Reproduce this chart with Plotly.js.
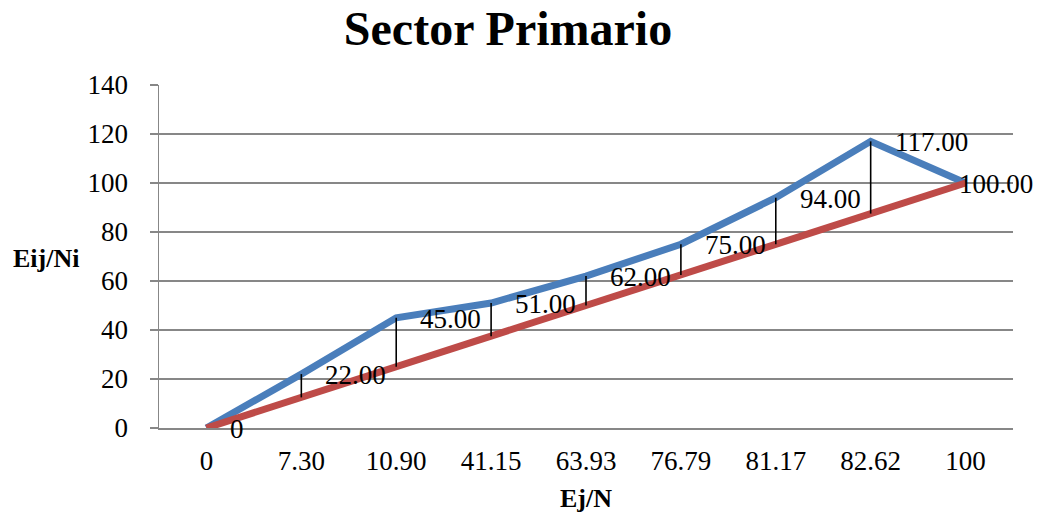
<!DOCTYPE html>
<html>
<head>
<meta charset="utf-8">
<script src="https://cdn.plot.ly/plotly-3.0.1.min.js"></script>
<style>
  html, body { margin: 0; padding: 0; background: #fff; }
  #chart { width: 1040px; height: 515px; }
</style>
</head>
<body>
<div id="chart"></div>
<script>
// Categories (Ej/N) shown on the x axis
var categories = ['0', '7.30', '10.90', '41.15', '63.93', '76.79', '81.17', '82.62', '100'];
// Blue series (Eij/Ni cumulative)
var blueValues = [0, 22, 45, 51, 62, 75, 94, 117, 100];
// Red series (equidistribution line)
var redValues = [0, 12.5, 25, 37.5, 50, 62.5, 75, 87.5, 100];
// Data label texts for the blue series
var blueLabels = ['0', '22.00', '45.00', '51.00', '62.00', '75.00', '94.00', '117.00', '100.00'];
// Y tick values
var yTicks = [0, 20, 40, 60, 80, 100, 120, 140];

var FONT = 'Liberation Serif, Times New Roman, serif';
var GRID = '#878787';

var dropX = [], dropY = [];
for (var i = 0; i < categories.length; i++) {
  dropX.push(categories[i], categories[i], null);
  dropY.push(blueValues[i], redValues[i], null);
}

var traces = [
  {
    x: categories, y: blueValues, type: 'scatter', mode: 'lines',
    line: { color: '#4A7EBB', width: 7 }, hoverinfo: 'skip', showlegend: false
  },
  {
    x: categories, y: redValues, type: 'scatter', mode: 'lines',
    line: { color: '#BE4B48', width: 7 }, hoverinfo: 'skip', showlegend: false
  },
  {
    x: dropX, y: dropY, type: 'scatter', mode: 'lines',
    line: { color: '#000000', width: 1.6 }, hoverinfo: 'skip', showlegend: false
  }
];

var annotations = blueLabels.map(function (t, i) {
  var last = i === blueLabels.length - 1;
  return {
    x: i, y: blueValues[i], xref: 'x', yref: 'y',
    text: t, showarrow: false, xanchor: 'left', yanchor: 'middle',
    xshift: last ? -9 : 22, yshift: -1,
    font: { family: FONT, size: 27, color: '#000' }
  };
});
annotations.push({
  xref: 'paper', yref: 'paper', x: (46 - 159) / 854, y: (428 - 258) / 343,
  text: '<b>Eij/Ni</b>', showarrow: false, xanchor: 'center', yanchor: 'middle',
  font: { family: FONT, size: 26, color: '#000' }
});

var layout = {
  width: 1040, height: 515,
  margin: { l: 159, r: 27, t: 85, b: 87 },
  paper_bgcolor: '#ffffff', plot_bgcolor: '#ffffff',
  title: {
    text: '<b>Sector Primario</b>',
    font: { family: FONT, size: 48, color: '#000' },
    x: 508 / 1040, xanchor: 'center', y: 1 - 28 / 515, yanchor: 'middle'
  },
  xaxis: {
    type: 'category', range: [-0.5, categories.length - 0.5],
    showgrid: false, zeroline: false,
    showline: true, linecolor: GRID, linewidth: 1.5,
    ticks: '', ticklabelstandoff: 8,
    tickfont: { family: FONT, size: 27, color: '#000' },
    title: { text: '<b>Ej/N</b>', font: { family: FONT, size: 26, color: '#000' }, standoff: 14 },
    fixedrange: true
  },
  yaxis: {
    range: [0, 140], tickvals: yTicks, ticktext: yTicks.map(String),
    showgrid: true, gridcolor: GRID, gridwidth: 1.5,
    zeroline: false, showline: true, linecolor: GRID, linewidth: 1.5,
    ticks: 'outside', ticklen: 8, tickcolor: GRID, tickwidth: 1.5,
    ticklabelstandoff: 16,
    tickfont: { family: FONT, size: 27, color: '#000' },
    fixedrange: true
  },
  annotations: annotations,
  showlegend: false
};

Plotly.newPlot('chart', traces, layout, { displayModeBar: false, staticPlot: true });
</script>
</body>
</html>
